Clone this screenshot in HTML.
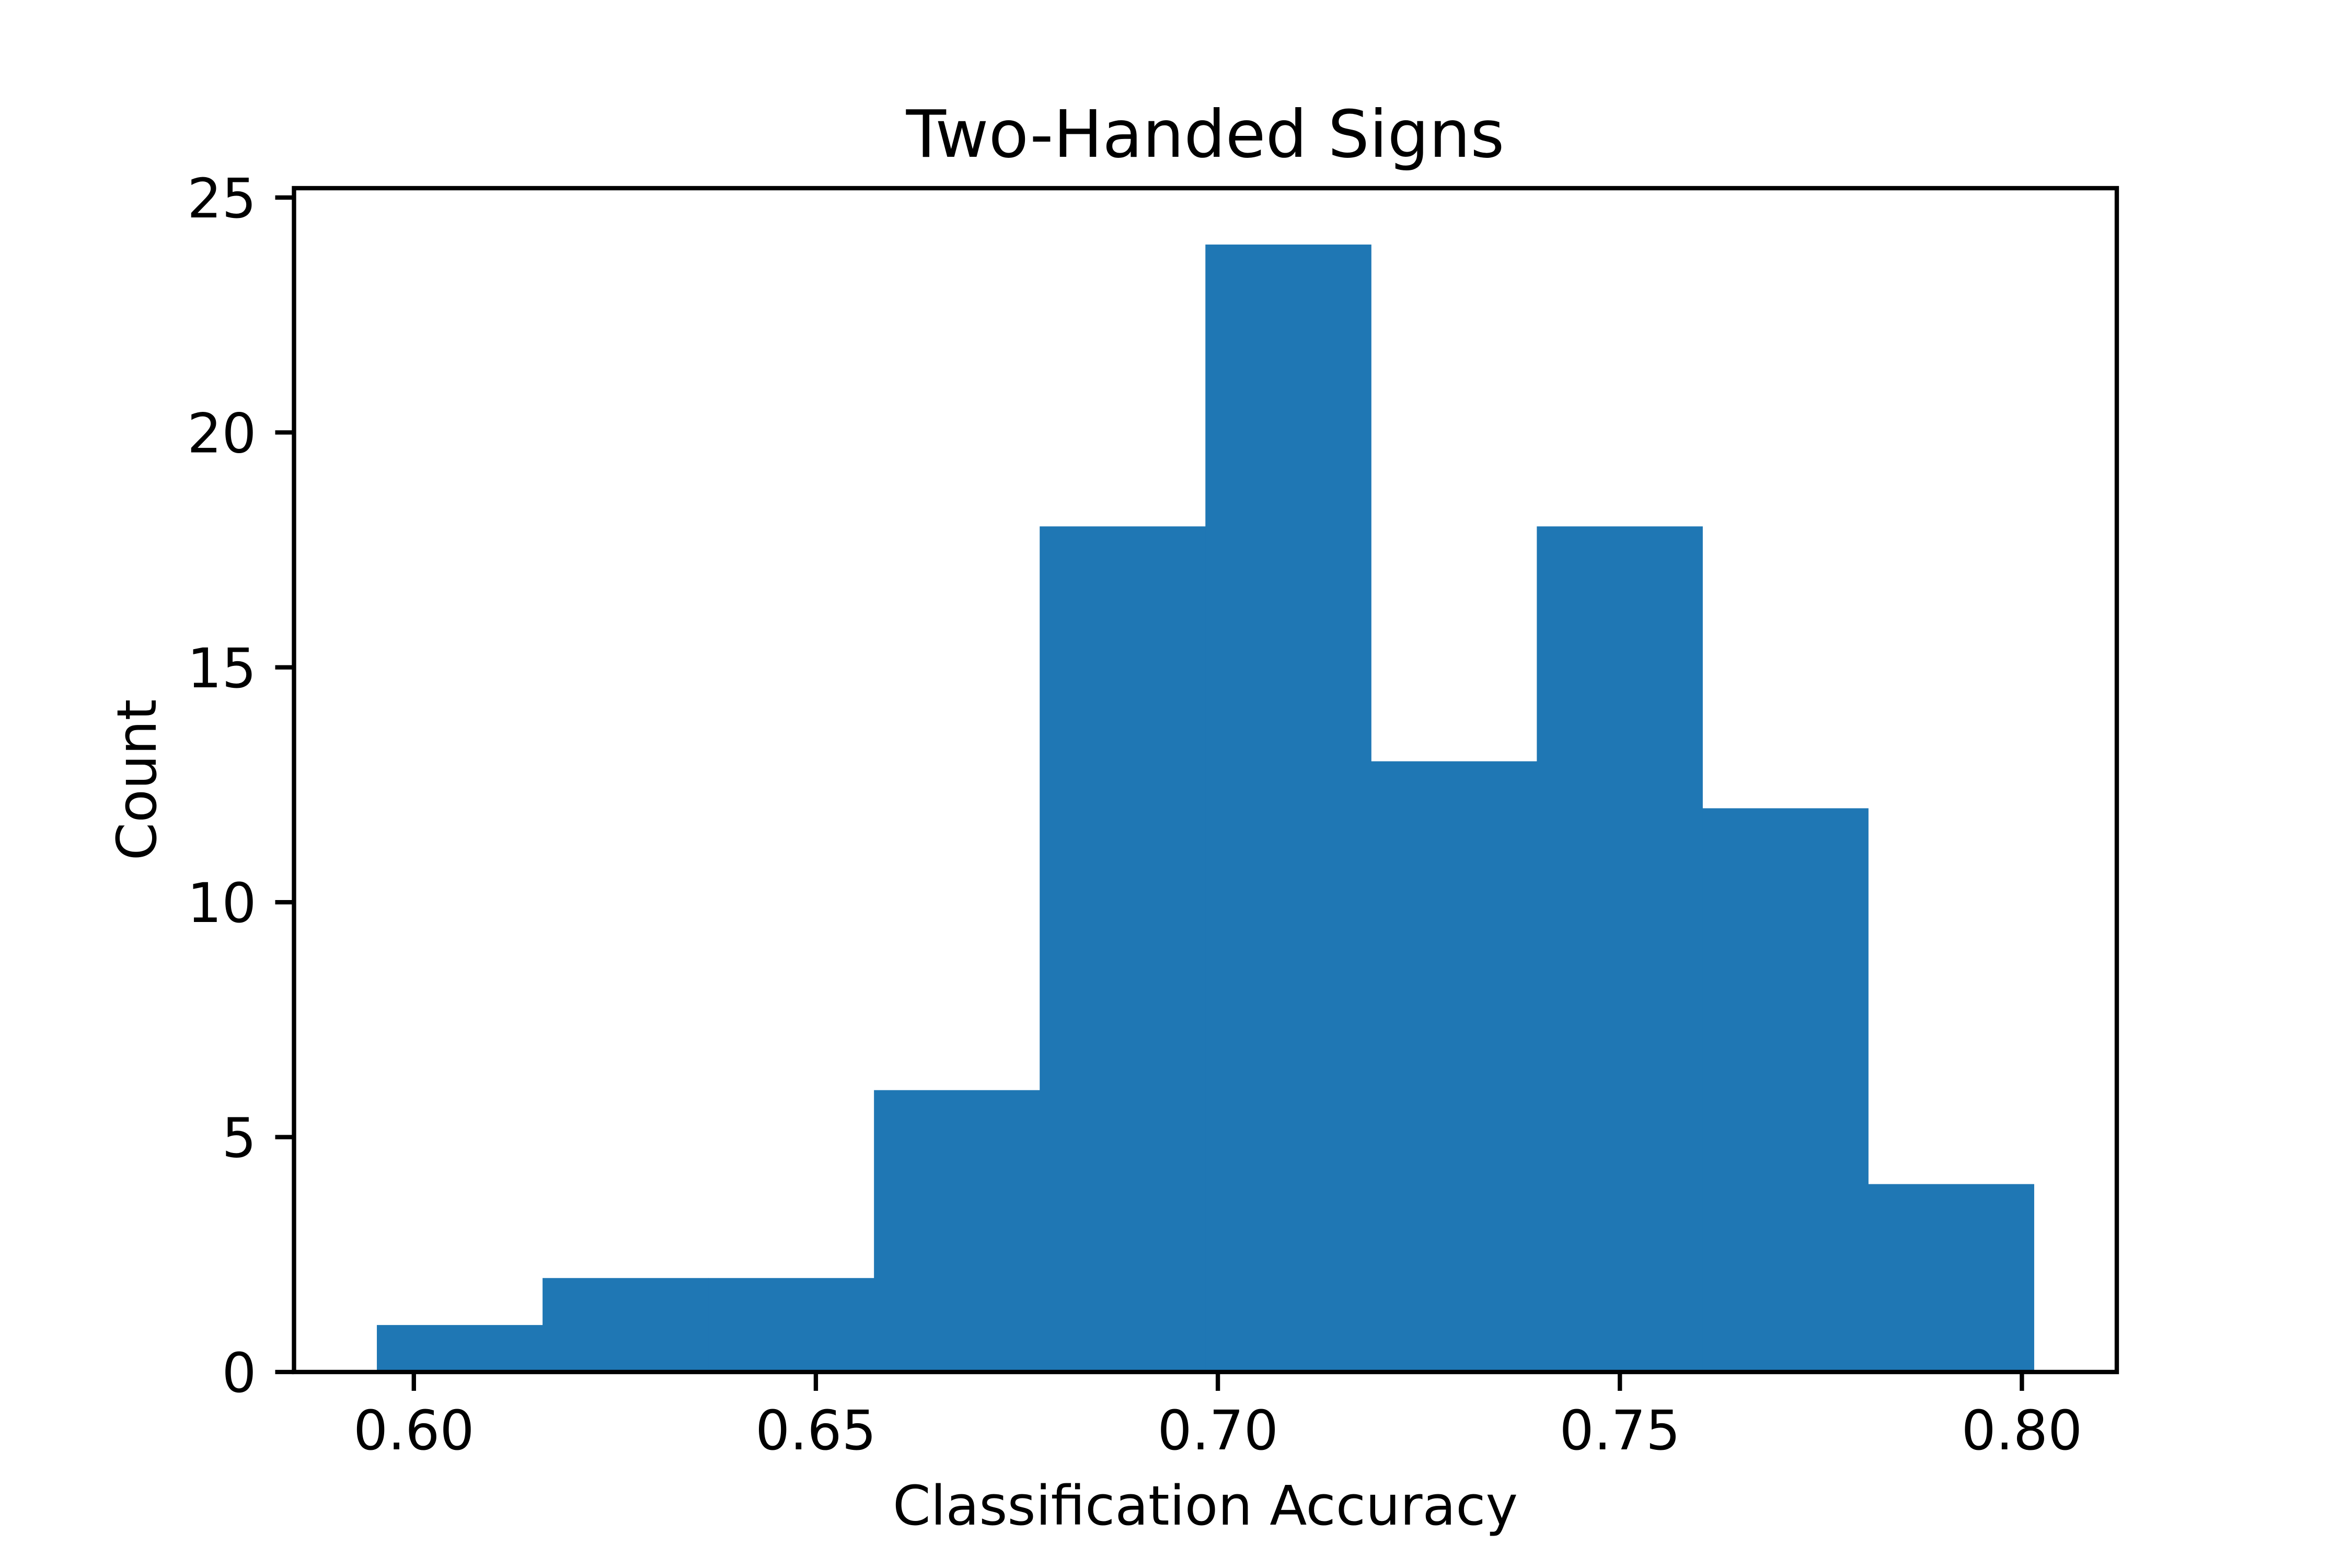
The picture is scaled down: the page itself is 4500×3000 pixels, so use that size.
<!DOCTYPE html>
<html><head><meta charset="utf-8"><style>html,body{margin:0;padding:0;background:#fff}svg{display:block}</style></head>
<body>
<svg id="chart" xmlns="http://www.w3.org/2000/svg" width="4500" height="3000" viewBox="0 0 4500 3000" font-family="'DejaVu Sans','Liberation Sans',sans-serif">
<rect width="4500" height="3000" fill="#fff"/>
<g id="bars"></g>
<g id="xticks"></g>
<g id="yticks"></g>
<rect x="562.5" y="360" width="3487.5" height="2265" fill="none" stroke="#000" stroke-width="8.33"/>
<text x="2306" y="300" font-size="125" text-anchor="middle">Two-Handed Signs</text>
<text x="2306" y="2917" font-size="104" text-anchor="middle">Classification Accuracy</text>
<text x="0" y="0" font-size="104" text-anchor="middle" transform="translate(298,1492) rotate(-90)">Count</text>
</svg>
<script>
const binStart = 0.5954;
const binWidth = 0.02061;
const counts = [1, 2, 2, 6, 18, 24, 13, 18, 12, 4];
const xTickValues = [0.60, 0.65, 0.70, 0.75, 0.80];
const xTickLabels = ["0.60", "0.65", "0.70", "0.75", "0.80"];
const yTickValues = [0, 5, 10, 15, 20, 25];
const yTickLabels = ["0", "5", "10", "15", "20", "25"];

const NS = "http://www.w3.org/2000/svg";
const L = 562.5, R = 4050, T = 360, B = 2625;
const dMin = binStart, dMax = binStart + binWidth * counts.length;
const pad = (dMax - dMin) * 0.05;
const xMin = dMin - pad, xMax = dMax + pad;
const yMax = Math.max(...counts) * 1.05;
function sx(v) { return L + (v - xMin) / (xMax - xMin) * (R - L); }
function sy(v) { return B - v / yMax * (B - T); }

const bars = document.getElementById("bars");
counts.forEach((c, i) => {
  const x0 = sx(binStart + i * binWidth), x1 = sx(binStart + (i + 1) * binWidth);
  const r = document.createElementNS(NS, "rect");
  r.setAttribute("x", x0);
  r.setAttribute("y", sy(c));
  r.setAttribute("width", x1 - x0 + 0.5);
  r.setAttribute("height", sy(0) - sy(c));
  r.setAttribute("fill", "#1f77b4");
  
  
  bars.appendChild(r);
});

const xt = document.getElementById("xticks");
xTickValues.forEach((v, i) => {
  const x = sx(v);
  const l = document.createElementNS(NS, "line");
  l.setAttribute("x1", x); l.setAttribute("x2", x);
  l.setAttribute("y1", B); l.setAttribute("y2", B + 36);
  l.setAttribute("stroke", "#000"); l.setAttribute("stroke-width", "8.33");
  
  
  xt.appendChild(l);
  const t = document.createElementNS(NS, "text");
  t.setAttribute("x", x); t.setAttribute("y", B + 148);
  t.setAttribute("font-size", "104"); t.setAttribute("text-anchor", "middle");
  t.textContent = xTickLabels[i];
  
  
  xt.appendChild(t);
});

const yt = document.getElementById("yticks");
yTickValues.forEach((v, i) => {
  const y = sy(v);
  const l = document.createElementNS(NS, "line");
  l.setAttribute("x1", L - 36); l.setAttribute("x2", L);
  l.setAttribute("y1", y); l.setAttribute("y2", y);
  l.setAttribute("stroke", "#000"); l.setAttribute("stroke-width", "8.33");
  
  
  yt.appendChild(l);
  const t = document.createElementNS(NS, "text");
  t.setAttribute("x", L - 72); t.setAttribute("y", y + 38);
  t.setAttribute("font-size", "104"); t.setAttribute("text-anchor", "end");
  t.textContent = yTickLabels[i];
  
  
  yt.appendChild(t);
});
</script>
</body></html>
